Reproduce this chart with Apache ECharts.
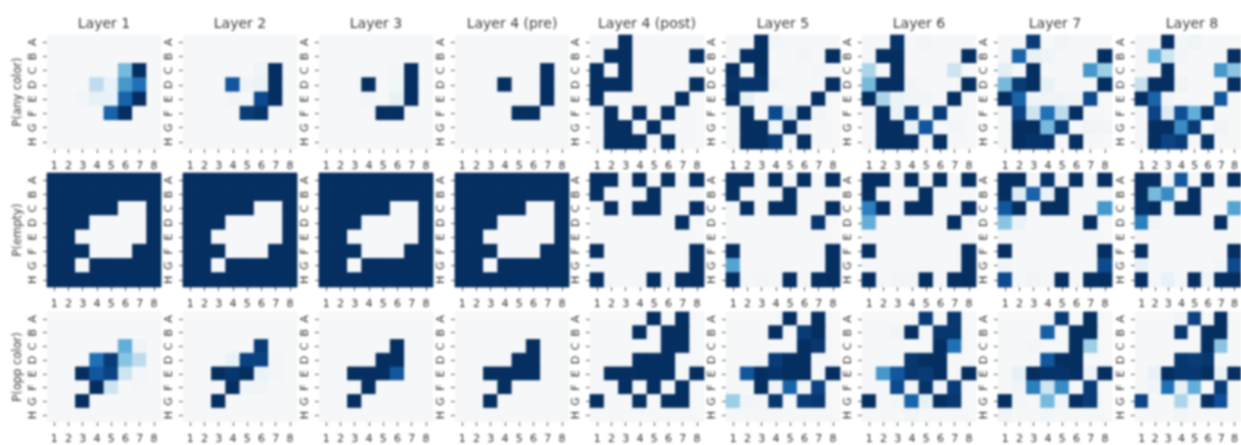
<!DOCTYPE html>
<html>
<head>
<meta charset="utf-8">
<title>Layer heatmaps</title>
<script src="https://cdn.jsdelivr.net/npm/echarts@6/dist/echarts.min.js"></script>
<style>
    html, body { margin: 0; padding: 0; background: #fff; overflow: hidden; }
    #chart { width: 1241px; height: 445px; filter: blur(0.8px); }
</style>
</head>
<body>
<div id="chart"></div>
<script>
var layers = ['Layer 1', 'Layer 2', 'Layer 3', 'Layer 4 (pre)', 'Layer 4 (post)', 'Layer 5', 'Layer 6', 'Layer 7', 'Layer 8'];
var rowNames = ['P(any color)', 'P(empty)', 'P(opp color)'];
var colLabels = ['1', '2', '3', '4', '5', '6', '7', '8'];
var rowLabels = ['A', 'B', 'C', 'D', 'E', 'F', 'G', 'H'];

// rows A-H, columns 1-8
var anyColor = [
    [[0,0,0,0,0,0,0,0], [0,0,0,0,0,0,0,0], [0,0,0,0,0,.45,1,0], [0,0,0,.25,.08,.6,.75,0], [0,0,.02,.1,.08,.8,1,0], [0,0,0,0,.8,1,0,0], [0,0,0,0,0,0,0,0], [0,0,0,0,0,0,0,0]],
    [[0,0,0,0,0,0,0,0], [0,0,0,0,0,0,0,0], [0,0,0,0,0,.05,1,0], [0,0,0,.85,.05,.06,1,0], [0,0,0,.03,0,.9,1,0], [0,0,0,0,.95,.98,0,0], [0,0,0,0,0,0,0,0], [0,0,0,0,0,0,0,0]],
    [[0,0,0,0,0,0,0,0], [0,0,0,0,0,0,0,0], [0,0,0,0,0,.02,1,0], [0,0,0,1,0,.02,1,0], [0,0,0,.02,0,.1,1,0], [0,0,0,0,1,1,0,0], [0,0,0,0,0,0,0,0], [0,0,0,0,0,0,0,0]],
    [[0,0,0,0,0,0,0,0], [0,0,0,0,0,0,0,0], [0,0,0,0,0,.01,1,0], [0,0,0,1,0,.01,1,0], [0,0,0,0,0,0,1,0], [0,0,0,0,1,1,0,0], [0,0,0,0,0,0,0,0], [0,0,0,0,0,0,0,0]],
    [[0,0,1,0,0,0,0,0], [0,1,1,0,0,0,0,1], [1,0,1,0,0,0,0,0], [1,1,1,0,0,0,0,1], [1,0,0,0,0,0,1,0], [0,1,0,1,0,1,0,0], [0,1,1,0,1,0,0,0], [0,1,1,1,0,1,0,0]],
    [[0,0,1,.02,0,0,0,0], [0,1,1,0,0,.03,0,1], [1,0,1,0,0,0,.02,0], [.98,.98,.98,.03,0,0,0,1], [1,.1,0,0,0,0,1,0], [0,1,0,.9,.12,1,.03,0], [0,1,1,.05,1,.03,0,0], [0,1,1,.95,0,1,0,0]],
    [[0,0,.98,0,.02,0,0,0], [0,1,1,.01,0,0,0,1], [.3,0,1,0,0,0,.2,0], [.45,1,1,.03,0,0,0,1], [1,.3,.07,.03,.03,0,1,0], [0,1,.06,.95,0,.95,0,0], [0,1,1,.1,.85,0,.02,0], [0,1,1,1,0,1,0,0]],
    [[0,0,.95,0,.03,0,0,0], [0,.8,.1,.05,0,0,0,1], [.12,0,1,0,0,0,.6,.35], [.45,.95,1,.08,0,0,0,1], [1,.8,.05,.05,.05,.03,.9,0], [0,.92,.2,.75,.25,1,0,0], [0,1,1,.45,.95,0,.04,.03], [0,1,.98,.98,0,1,0,0]],
    [[0,0,1,.02,.04,0,0,0], [0,.5,.2,.03,0,0,0,1], [0,0,1,0,0,0,.6,.4], [.22,1,1,.03,0,0,0,1], [1,.8,.03,0,0,0,.85,0], [0,.92,.15,.88,.5,.98,0,0], [0,1,1,.65,.95,0,.05,0], [0,1,.92,.95,0,.98,0,0]]
];

var emptyEarly = [[1,1,1,1,1,1,1,1], [1,1,1,1,1,1,1,1], [1,1,1,1,1,0,0,1], [1,1,1,0,0,0,0,1], [1,1,0,0,0,0,0,1], [1,1,1,0,0,0,1,1], [1,1,0,1,1,1,1,1], [1,1,1,1,1,1,1,1]];
var empty = [
    emptyEarly,
    emptyEarly,
    emptyEarly,
    emptyEarly,
    [[1,1,0,1,0,1,0,1], [1,0,0,0,1,0,0,0], [0,1,0,1,1,0,0,1], [0,0,0,0,0,0,1,0], [0,0,0,0,0,0,0,0], [1,0,0,0,0,0,0,1], [0,0,0,0,0,0,0,1], [1,0,0,0,1,0,1,1]],
    [[1,1,0,1,0,1,0,1], [1,0,0,0,1,0,0,0], [0,1,0,1,1,0,0,1], [0,0,0,0,0,0,.97,0], [0,0,0,0,0,0,0,0], [1,0,0,0,0,0,0,1], [.55,0,0,0,0,0,0,1], [1,.01,.02,0,1,0,1,1]],
    [[1,1,0,1,0,1,0,1], [1,.01,0,0,1,0,0,0], [.7,1,0,1,1,0,0,1], [.5,0,0,0,0,0,1,0], [0,0,0,0,0,0,0,0], [1,0,0,0,0,0,0,1], [0,0,0,.01,.01,0,0,1], [1,0,.02,.02,1,0,1,1]],
    [[1,1,.01,.98,0,1,0,1], [1,.15,.8,.08,1,0,0,0], [.85,1,0,1,1,0,0,.6], [.4,.06,0,0,0,0,1,0], [0,0,0,0,0,0,0,0], [1,0,0,0,0,0,0,1], [.03,0,0,0,0,0,0,.9], [.9,0,.03,0,1,0,1,1]],
    [[1,1,0,.85,0,1,0,1], [1,.45,.65,0,1,0,0,0], [.98,1,0,1,1,0,0,.55], [.7,.03,0,0,0,0,1,0], [0,0,0,0,0,0,0,0], [1,0,0,0,0,0,0,1], [.1,0,0,0,0,0,.02,.9], [1,0,.08,0,1,.03,1,1]]
];

var oppColor = [
    [[0,0,0,0,0,0,0,0], [0,0,0,0,0,0,0,0], [0,0,0,0,0,.5,.04,0], [0,0,0,.75,.95,.4,.25,0], [0,0,1,.85,.92,.2,.02,0], [0,0,0,1,.2,0,.01,0], [0,0,1,0,0,0,0,0], [0,0,0,0,0,0,0,0]],
    [[0,0,0,0,0,0,0,0], [0,0,0,0,0,0,0,0], [0,0,0,0,0,.95,0,0], [0,0,0,.08,.93,.93,.02,0], [0,0,1,.97,1,.06,.02,0], [0,0,0,1,.03,.03,0,0], [0,0,1,0,0,0,0,0], [0,0,0,0,0,0,0,0]],
    [[0,0,0,0,0,0,0,0], [0,0,0,0,0,0,0,0], [0,0,0,0,0,1,0,0], [0,0,0,.01,1,1,0,0], [0,0,1,1,1,.85,0,0], [0,0,0,1,0,0,0,0], [0,0,1,0,0,0,0,0], [0,0,0,0,0,0,0,0]],
    [[0,0,0,0,0,0,0,0], [0,0,0,0,0,0,0,0], [0,0,0,0,0,1,0,0], [0,0,0,0,1,1,0,0], [0,0,1,1,1,1,0,0], [0,0,0,1,0,0,0,0], [0,0,1,0,0,0,0,0], [0,0,0,0,0,0,0,0]],
    [[0,0,0,0,1,0,1,0], [0,0,0,1,0,1,1,0], [0,0,0,0,0,1,1,0], [0,0,0,1,1,1,0,0], [0,1,1,1,1,1,0,1], [0,0,1,0,1,0,1,0], [1,0,0,1,0,1,1,0], [0,0,0,0,0,0,0,0]],
    [[0,0,0,0,1,0,1,0], [0,0,0,1,0,.95,1,0], [0,0,0,0,0,1,.97,0], [0,0,.01,.95,1,1,0,0], [0,.85,1,.98,1,1,0,1], [0,0,1,.05,.8,.02,.93,0], [.35,.03,.02,.97,0,.95,.97,0], [0,0,.01,.01,0,0,0,0]],
    [[0,0,0,0,.95,0,.97,0], [0,0,.03,1,0,.97,.97,0], [0,0,0,0,0,1,.75,0], [0,0,0,.97,1,1,0,0], [0,.6,.85,.97,.95,1,0,1], [0,0,.9,.02,.98,.03,.95,0], [1,0,.02,.8,.1,1,.97,0], [0,0,0,.03,0,0,0,0]],
    [[0,0,0,0,.95,0,1,0], [0,0,0,.82,0,1,1,0], [0,0,.02,0,0,1,.35,0], [0,0,0,.85,1,1,0,0], [0,.1,1,.98,.98,1,.05,1], [0,.03,.7,.2,.65,0,.95,0], [1,.02,0,.45,.03,1,.95,0], [.03,0,0,.02,0,0,0,0]],
    [[0,0,0,.03,.92,0,1,0], [0,0,0,.97,0,1,1,0], [0,0,0,0,0,1,.4,0], [0,0,0,.97,.95,.97,0,0], [0,.08,1,.97,.97,1,.06,1], [0,.03,.75,.1,.5,0,.95,0], [.92,0,0,.3,.02,1,.88,0], [0,0,0,.03,0,0,0,0]]
];

var rowData = [anyColor, empty, oppColor];

var panelLefts = [47, 183, 319, 455, 590, 726, 862, 998, 1135];
var panelTops = [35, 173, 312];
var panelSize = 114;

var titles = [];
var grids = [];
var xAxes = [];
var yAxes = [];
var series = [];

// heatmap leaves seams at 14.25px cells, so cells are drawn with a hairline of their own colour
var renderCell = function (params, api) {
    var center = api.coord([api.value(0), api.value(1)]);
    var size = api.size([1, 1]);
    var color = api.visual('color');
    return {
        type: 'rect',
        shape: { x: center[0] - size[0] / 2, y: center[1] - size[1] / 2, width: size[0], height: size[1] },
        style: { fill: color, stroke: color, lineWidth: 0.8 }
    };
};

layers.forEach(function (layer, col) {
    titles.push({
        text: layer,
        left: panelLefts[col] + panelSize / 2 - 5,
        top: 12,
        textAlign: 'center',
        textStyle: { fontFamily: 'DejaVu Sans', fontSize: 14, fontWeight: 'normal', color: '#3d3d3d' }
    });
});

rowData.forEach(function (row, r) {
    row.forEach(function (cells, c) {
        var idx = grids.length;
        var points = [];
        cells.forEach(function (vals, y) {
            vals.forEach(function (v, x) {
                points.push([x, y, v]);
            });
        });

        grids.push({ left: panelLefts[c], top: panelTops[r], width: panelSize, height: panelSize });
        xAxes.push({
            type: 'category',
            gridIndex: idx,
            data: colLabels,
            position: 'bottom',
            axisLine: { show: false },
            axisTick: { show: true, alignWithLabel: true, length: 4, lineStyle: { color: '#555' } },
            axisLabel: { interval: 0, margin: 12, fontFamily: 'DejaVu Sans', fontSize: 11, color: '#333' },
            splitArea: { show: false },
            splitLine: { show: false }
        });
        yAxes.push({
            type: 'category',
            gridIndex: idx,
            data: rowLabels,
            inverse: true,
            name: c === 0 ? rowNames[r] : '',
            nameLocation: 'middle',
            nameRotate: 90,
            nameGap: 23,
            nameTextStyle: { fontFamily: 'DejaVu Sans', fontSize: 11.5, color: '#3d3d3d' },
            axisLine: { show: false },
            axisTick: { show: true, alignWithLabel: true, length: 4, lineStyle: { color: '#555' } },
            axisLabel: { interval: 0, rotate: 90, margin: 8, fontFamily: 'DejaVu Sans', fontSize: 11, color: '#333' },
            splitArea: { show: false },
            splitLine: { show: false }
        });
        series.push({
            type: 'custom',
            coordinateSystem: 'cartesian2d',
            xAxisIndex: idx,
            yAxisIndex: idx,
            renderItem: renderCell,
            encode: { x: 0, y: 1 },
            data: points,
            silent: true,
            animation: false
        });
    });
});

var myChart = echarts.init(document.getElementById('chart'), null, { renderer: 'canvas' });
var option = {
    animation: false,
    backgroundColor: '#fff',
    title: titles,
    tooltip: { show: false },
    grid: grids,
    xAxis: xAxes,
    yAxis: yAxes,
    visualMap: {
        show: false,
        type: 'continuous',
        min: 0,
        max: 1,
        dimension: 2,
        seriesIndex: series.map(function (s, i) { return i; }),
        inRange: { color: ['#f5f7f8', '#e3eff6', '#bedcee', '#94cae3', '#63aed8', '#3f92c8', '#2070b5', '#0e4f98', '#052f61'] }
    },
    series: series
};
myChart.setOption(option, true);
</script>
</body>
</html>
